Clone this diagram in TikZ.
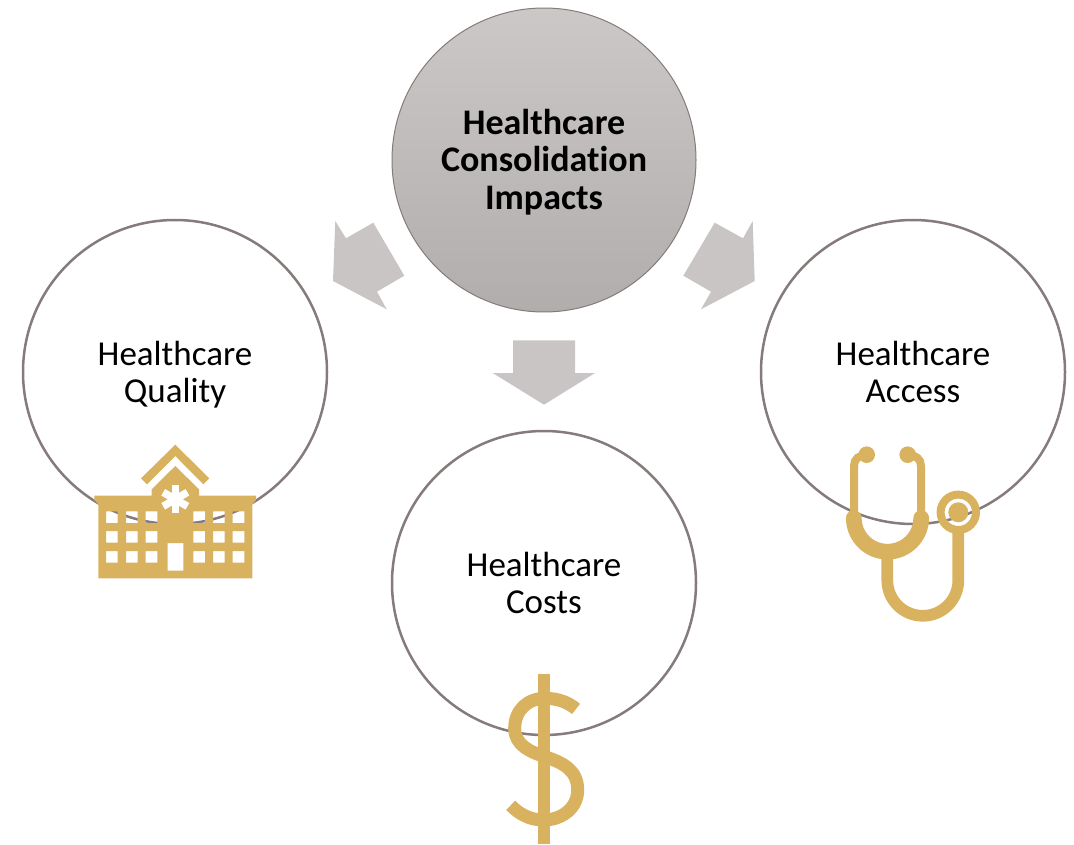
\documentclass[tikz,border=0pt]{standalone}
\usepackage{fontspec}
\usetikzlibrary{calc}
\setmainfont[Ligatures=NoCommon]{Carlito}
\definecolor{ringline}{HTML}{857B7B}
\definecolor{arrowfill}{HTML}{C9C5C5}
\definecolor{gold}{HTML}{D9B25F}
\definecolor{hubtop}{HTML}{CCC8C7}
\definecolor{hubbot}{HTML}{B2ADAD}
\newcommand{\topgap}{\rule{0pt}{35pt}}
\tikzset{
  ring/.style={circle,draw=ringline,line width=2.5pt,minimum size=304pt,inner sep=0pt,align=center,
    font=\fontsize{35}{37}\selectfont,text=black},
  hub/.style={ring,line width=1pt,top color=hubtop,bottom color=hubbot,font=\fontsize{36}{37.5}\selectfont\bfseries},
  blockarrow/.style={fill=arrowfill,draw=none},
  goldfill/.style={fill=gold,draw=none},
  goldline/.style={draw=gold,fill=none},
}
\begin{document}
\begin{tikzpicture}[x=1pt,y=-1pt]
\useasboundingbox (0,0) rectangle (1074,845);
% circles
\node[hub]  (impacts) at (544,160) {\topgap Healthcare\\Consolidation\\Impacts\strut};
\node[ring] (quality) at (175,372) {\topgap Healthcare\\Quality\strut};
\node[ring] (access)  at (913,372) {\topgap Healthcare\\Access\strut};
\node[ring] (costs)   at (544,583) {\topgap Healthcare\\Costs\strut};
% block arrows
\fill[blockarrow] (335.3,221) -- (346,238.3) -- (373.3,222.7) -- (404.3,275.7) -- (377,291.7) -- (386.7,309.3) -- (333,281) -- cycle;
\fill[blockarrow] (752.7,221) -- (743,238.3) -- (714.7,222.7) -- (683.3,275.7) -- (711,291.7) -- (701,309.3) -- (754.7,281) -- cycle;
\fill[blockarrow] (513,340.3) -- (575,340.3) -- (575,373) -- (595,373) -- (544,404.7) -- (492.7,373) -- (513,373) -- cycle;
% hospital
\fill[goldfill,even odd rule]
  (94.3,495.7) -- (151.7,495.7) -- (151.7,489.3) -- (175.3,466) -- (199,489.3) -- (199,495.7) -- (256,495.7) -- (256,500) -- (252.3,504) -- (252.3,578.3) -- (98.3,578.3) -- (98.3,504) -- (94.3,500) -- cycle
  (167.7,543) rectangle (183.3,570.7)
  (106,511.3) rectangle (117.7,523) (126,511.3) rectangle (137.7,523) (145.7,511.3) rectangle (157.3,523)
  (193.3,511.3) rectangle (205,523) (213,511.3) rectangle (224.7,523) (232.7,511.3) rectangle (244.3,523)
  (106,531) rectangle (117.7,542.7) (126,531) rectangle (137.7,542.7) (145.7,531) rectangle (157.3,542.7)
  (193.3,531) rectangle (205,542.7) (213,531) rectangle (224.7,542.7) (232.7,531) rectangle (244.3,542.7)
  (106,551) rectangle (117.7,562.7) (126,551) rectangle (137.7,562.7) (145.7,551) rectangle (157.3,562.7)
  (193.3,551) rectangle (205,562.7) (213,551) rectangle (224.7,562.7) (232.7,551) rectangle (244.3,562.7);
\fill[goldfill] (175.3,444.7) -- (209.3,478.3) -- (203.3,484.3) -- (175.3,456) -- (147,484.3) -- (141,478.3) -- cycle;
\foreach \a in {90,30,-30} \draw[white,line width=7.5pt] ($(175.3,499.3)+(\a:14)$) -- ($(175.3,499.3)+(\a+180:14)$);
% stethoscope
\draw[goldline,line width=15.7pt,line cap=round] (853.8,518) arc[start angle=180,end angle=0,radius=33.7];
\draw[goldline,line width=8pt] (854,515) -- (854,466) .. controls (854,459) and (859,455) .. (866.7,454.7);
\draw[goldline,line width=8pt] (921,515) -- (921,466) .. controls (921,459) and (916,455) .. (907.7,454.7);
\fill[goldfill] (866.7,454.7) circle[radius=8.3];
\fill[goldfill] (907.7,454.7) circle[radius=8.3];
\draw[goldline,line width=11.7pt] (887.3,552) -- (887.3,580.3) arc[start angle=180,end angle=0,radius=35.5] -- (958.3,530);
\draw[goldline,line width=8pt] (958.3,512.3) circle[radius=17.7];
\fill[goldfill] (958.3,512.3) circle[radius=10];
% dollar
\fill[goldfill] (538,674.3) rectangle (550,844.3);
\draw[goldline,line width=13pt] (576,709) .. controls (568,702) and (557,698.3) .. (545,698.3)
  .. controls (528,698.3) and (514.7,710) .. (514.7,728.3)
  .. controls (514.7,745) and (530,752) .. (546,757)
  .. controls (563,763) and (577.7,770) .. (577.7,790)
  .. controls (577.7,808) and (562,820) .. (543.3,820)
  .. controls (530,820) and (519,814) .. (510.7,805.3);
\end{tikzpicture}
\end{document}
